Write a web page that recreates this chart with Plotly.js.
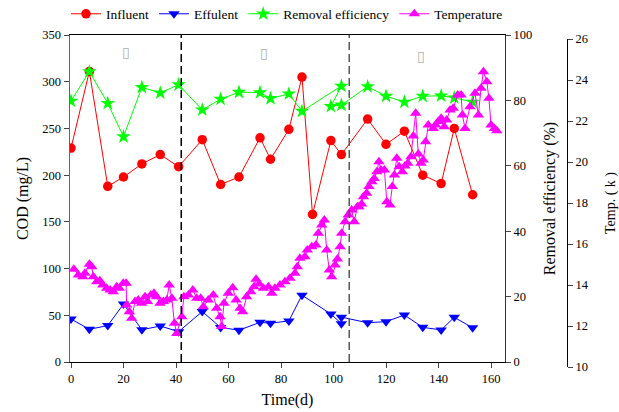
<!DOCTYPE html>
<html>
<head>
<meta charset="utf-8">
<script src="https://cdn.plot.ly/plotly-3.0.1.min.js"></script>
<style>html,body{margin:0;padding:0;background:#fff;}#chart{width:619px;height:412px;}</style>
</head>
<body>
<div id="chart"></div>
<script>
// ---- data ----
const influentDays = [0,7,14,20,27,34,41,50,57,64,72,76,83,88,92,99,103,113,120,127,134,141,146,153];
const influentCOD  = [229,311,188,198,212,222,209,238,190,198,240,217,249,305,158,237,222,260,233,247,200,191,250,179];

const effluentDays = [0,7,14,20,27,34,41,50,57,64,72,76,83,88,99,103,103,113,120,127,134,141,146,153];
const effluentCOD  = [46,35,39,62,34.5,38.5,32.5,54,37,34,42.5,41.5,44,71.5,51.4,41,48,42,43.2,50.3,37.1,34.3,47.8,36.7];

const removalDays = [0,7,14,20,27,34,41,50,57,64,72,76,83,88,103,99,103,113,120,127,134,141,146,153];
const removalPct  = [79.8,88.8,79.1,68.9,84.0,82.3,84.8,77.1,80.4,82.5,82.4,80.6,82.0,76.7,84.4,78.2,78.6,84.2,81.3,79.5,81.3,81.4,80.8,79.5];

const tempDays = [1.1,2.8,4.5,5.3,7.0,7.9,8.5,9.8,11.0,12.1,13.6,14.9,16.1,17.4,18.4,19.9,21.0,21.2,22.2,23.1,
  24.4,25.6,26.9,28.2,29.1,30.4,31.6,32.6,33.9,35.2,36.5,37.4,38.4,39.4,40.3,42.2,43.0,44.7,46.4,47.9,
  49.4,50.4,52.3,54.2,55.5,56.8,57.4,58.3,59.9,61.6,62.9,64.4,65.4,66.9,68.5,69.7,70.5,71.7,73.3,75.2,
  76.5,77.7,79.6,81.5,83.4,85.3,86.2,87.2,89.1,90.0,91.7,93.3,94.2,95.5,96.5,97.4,98.4,99.3,100.6,101.5,
  102.5,103.1,104.4,105.6,106.9,107.9,109.1,109.7,110.7,111.4,112.6,113.5,114.6,115.5,116.5,117.3,118.1,119.4,120.3,121.5,
  122.4,123.2,124.1,125.0,126.2,127.2,128.3,129.5,130.4,131.3,132.3,133.3,134.2,135.1,136.1,138.0,138.9,139.9,141.0,142.2,
  143.1,144.4,145.6,147.3,148.6,149.1,150.1,152.0,153.9,155.2,156.2,157.1,158.4,159.2,160.0,161.3,162.2];
const tempVals = [14.77,14.49,14.40,14.57,15.01,14.89,14.40,14.16,14.21,14.00,13.84,13.76,13.67,13.92,13.84,14.08,14.08,13.02,12.70,12.38,
  13.19,13.27,13.11,13.43,13.19,13.51,13.60,13.43,13.11,13.19,13.27,14.00,13.35,12.13,11.64,12.45,13.43,13.51,13.76,13.35,
  13.35,12.94,13.27,13.51,12.86,12.45,11.97,13.11,13.60,13.87,13.27,12.86,12.70,13.43,13.67,13.92,14.28,14.05,13.84,13.92,
  13.60,13.84,14.00,14.16,14.33,14.57,14.89,15.30,15.38,15.71,15.87,15.95,16.52,16.93,17.17,15.71,14.73,14.40,14.98,15.27,
  15.87,16.52,17.09,17.41,17.66,17.09,17.82,17.82,17.95,18.31,18.47,18.80,19.04,19.20,19.53,20.01,19.61,19.61,18.06,17.90,
  18.80,19.37,20.18,19.77,19.53,19.80,19.94,20.26,21.27,22.38,20.39,19.94,20.10,20.99,21.80,21.64,21.80,21.97,22.13,21.72,
  22.05,22.54,22.62,23.27,23.27,22.29,21.64,22.70,23.35,22.29,23.60,24.40,23.92,23.11,21.80,21.64,21.53];

const phaseBounds = [42, 106];
const phaseLabels = ["\u25AF", "\u25AF", "\u25AF"];
const phaseLabelDays = [21, 73.5, 133.5];
const phaseLabelCOD = [332, 331, 327];

const xTicks = [0,20,40,60,80,100,120,140,160];

// ---- chart ----
const SERIF = "Liberation Serif";
function f(size) { return {family: SERIF, size: size, color: "#000000"}; }

const traces = [
  {name: "Influent", x: influentDays, y: influentCOD, type: "scatter", mode: "lines+markers",
   line: {color: "#ff0000", width: 1}, marker: {symbol: "circle", size: 9.5, color: "#ff0000"}},
  {name: "Effulent", x: effluentDays, y: effluentCOD, type: "scatter", mode: "lines+markers",
   line: {color: "#0000ff", width: 1}, marker: {symbol: "triangle-down", size: 10, color: "#0000ff"}},
  {name: "Removal efficiency", x: removalDays, y: removalPct, yaxis: "y2", type: "scatter", mode: "lines+markers",
   line: {color: "#00ff00", width: 1}, marker: {symbol: "star", size: 11, color: "#00ff00"}},
  {name: "Temperature", x: tempDays, y: tempVals, yaxis: "y3", type: "scatter", mode: "lines+markers",
   line: {color: "#ff00ff", width: 1}, marker: {symbol: "triangle-up", size: 10, color: "#ff00ff"}}
];

const W = 619, H = 412, ML = 70, MR = 45, MT = 35, MB = 45;
const pw = W - ML - MR, ph = H - MT - MB;
const xRight = (505 - ML) / pw;

const shapes = phaseBounds.map((d, i) => ({
  type: "line", xref: "x", yref: "y domain", x0: d, x1: d, y0: 0, y1: 1,
  line: {color: i === 0 ? "#000000" : "#555555", width: 1.5, dash: "8px,4px"}, layer: "above"
}));

const annotations = phaseLabels.map((t, i) => ({
  text: t, x: phaseLabelDays[i], y: phaseLabelCOD[i], xref: "x", yref: "y",
  showarrow: false, font: {family: "DejaVu Sans", size: 14, color: "#b0b0b0"}
}));

const layout = {
  width: W, height: H,
  margin: {l: ML, r: MR, t: MT, b: MB},
  paper_bgcolor: "#ffffff",
  plot_bgcolor: "rgba(0,0,0,0)",
  font: f(13),
  showlegend: true,
  legend: {orientation: "h", xref: "container", yref: "container",
           x: 66 / W, xanchor: "left", y: 1 - 14 / H, yanchor: "middle",
           font: f(13.5), bgcolor: "rgba(0,0,0,0)", itemwidth: 30, tracegroupgap: 0},
  xaxis: {domain: [0, xRight], range: [-0.38, 165.33], tickvals: xTicks, ticks: "outside", ticklen: 5,
          showline: true, linecolor: "#000", linewidth: 1, mirror: true, showgrid: false, zeroline: false,
          tickfont: f(12.5), anchor: "y",
          title: {text: "Time(d)", font: f(16), standoff: 8}},
  yaxis: {domain: [(367 - 362) / ph, 1], range: [0, 350], dtick: 50, ticks: "outside", ticklen: 5,
          showline: true, linecolor: "#666", linewidth: 1.5, showgrid: false, zeroline: false,
          tickfont: f(12.5), anchor: "x",
          title: {text: "COD (mg/L)", font: f(16)}},
  yaxis2: {overlaying: "y", side: "right", anchor: "x", range: [0, 100], dtick: 20, ticks: "outside", ticklen: 5,
           showline: true, linecolor: "#333", linewidth: 1, showgrid: false, zeroline: false,
           tickfont: f(12.5),
           title: {text: "Removal efficiency (%)", font: f(16)}},
  yaxis3: {domain: [0, (367 - 39) / ph], anchor: "free", position: (567 - ML) / pw, side: "right",
           range: [10, 26], dtick: 2, ticks: "outside", ticklen: 5,
           showline: true, linecolor: "#000", linewidth: 1, showgrid: false, zeroline: false,
           tickfont: f(12.5),
           title: {text: "Temp. ( k )", font: f(14), standoff: 19}},
  shapes: shapes,
  annotations: annotations
};

Plotly.newPlot("chart", traces, layout, {displayModeBar: false, staticPlot: true});
</script>
</body>
</html>
